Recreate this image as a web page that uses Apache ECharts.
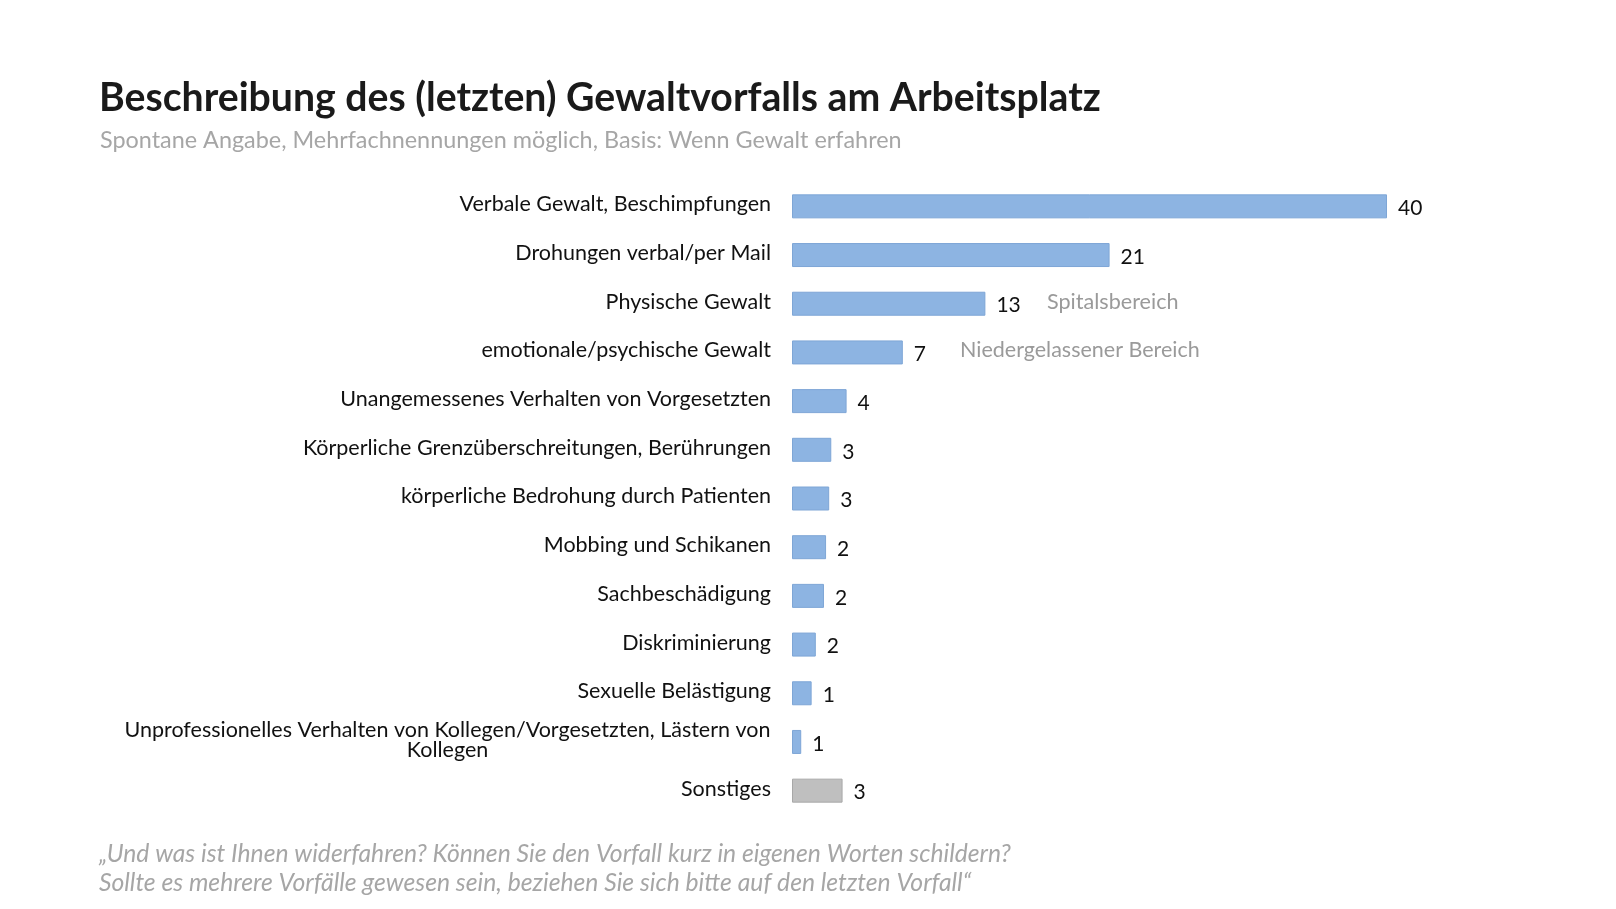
<!DOCTYPE html>
<html>
<head>
<meta charset="utf-8">
<script src="https://cdn.jsdelivr.net/npm/echarts@6/dist/echarts.min.js"></script>
<style>
html,body{margin:0;padding:0;background:#fff;}
#chart{width:1616px;height:909px;}
</style>
</head>
<body>
<div id="chart"></div>
<script>
// ---- data ----
const categories = [
  'Verbale Gewalt, Beschimpfungen',
  'Drohungen verbal/per Mail',
  'Physische Gewalt',
  'emotionale/psychische Gewalt',
  'Unangemessenes Verhalten von Vorgesetzten',
  'Körperliche Grenzüberschreitungen, Berührungen',
  'körperliche Bedrohung durch Patienten',
  'Mobbing und Schikanen',
  'Sachbeschädigung',
  'Diskriminierung',
  'Sexuelle Belästigung',
  'Unprofessionelles Verhalten von Kollegen/Vorgesetzten, Lästern von\nKollegen',
  'Sonstiges'
];
// bar lengths (printed labels are rounded)
const values = [40, 21.35, 13.0, 7.45, 3.67, 2.64, 2.5, 2.29, 2.15, 1.6, 1.32, 0.62, 3.4];
const otherCategory = 'Sonstiges';
const titleText = 'Beschreibung des (letzten) Gewaltvorfalls am Arbeitsplatz';
const subtitleText = 'Spontane Angabe, Mehrfachnennungen möglich, Basis: Wenn Gewalt erfahren';
const noteLines = [
  '„Und was ist Ihnen widerfahren? Können Sie den Vorfall kurz in eigenen Worten schildern?',
  'Sollte es mehrere Vorfälle gewesen sein, beziehen Sie sich bitte auf den letzten Vorfall“'
];
const annotations = ['Spitalsbereich', 'Niedergelassener Bereich'];

// ---- chart ----
const FONT = 'Lato';
const LABEL_SIZE = 21.5;
const chart = echarts.init(document.getElementById('chart'));

function textWidth(str, size) {
  const c = document.createElement('canvas').getContext('2d');
  c.font = size + 'px ' + FONT;
  return Math.ceil(c.measureText(str).width);
}

const seriesData = values.map((v, i) => ({
  value: v,
  itemStyle: categories[i] === otherCategory
    ? { color: '#BFBFBF', borderColor: '#A8A8A8' }
    : { color: '#8DB4E2', borderColor: '#7EA6D6' }
}));

const multiWidth = Math.max.apply(null, categories
  .filter(c => c.indexOf('\n') >= 0)
  .map(c => Math.max.apply(null, c.split('\n').map(s => textWidth(s, LABEL_SIZE)))));

chart.setOption({
  backgroundColor: '#ffffff',
  animation: false,
  grid: { left: 792, right: 229, top: 182, bottom: 94, containLabel: false },
  xAxis: { type: 'value', min: 0, max: 40, show: false },
  yAxis: {
    type: 'category',
    data: categories,
    inverse: true,
    axisLine: { show: false },
    axisTick: { show: false },
    axisLabel: {
      margin: 21,
      fontFamily: FONT,
      fontSize: LABEL_SIZE,
      color: '#111',
      lineHeight: 20,
      padding: [0, 0, 4, 0],
      formatter: function (v) {
        if (v.indexOf('\n') >= 0) {
          return v.split('\n').map(s => '{c|' + s + '}').join('\n');
        }
        return v;
      },
      rich: {
        c: { width: multiWidth, align: 'center', fontFamily: FONT, fontSize: LABEL_SIZE, color: '#111', lineHeight: 20 }
      }
    }
  },
  series: [{
    type: 'bar',
    data: seriesData,
    barWidth: 24,
    itemStyle: { borderWidth: 1 },
    label: {
      show: true,
      position: 'right',
      distance: 11,
      offset: [0, 2],
      fontFamily: FONT,
      fontSize: 21,
      color: '#111',
      formatter: p => String(Math.round(p.value))
    }
  }],
  graphic: [
    { type: 'text', x: 99, y: 98, style: { text: titleText, fontFamily: FONT, fontWeight: 'bold', fontSize: 39.2, fill: '#1a1a1a', verticalAlign: 'middle' } },
    { type: 'text', x: 100, y: 140, style: { text: subtitleText, fontFamily: FONT, fontSize: 23.4, fill: '#A6A6A6', verticalAlign: 'middle' } },
    { type: 'text', x: 1047, y: 302, style: { text: annotations[0], fontFamily: FONT, fontSize: 21.6, fill: '#9A9A9A', verticalAlign: 'middle' } },
    { type: 'text', x: 960, y: 350, style: { text: annotations[1], fontFamily: FONT, fontSize: 21.5, fill: '#9A9A9A', verticalAlign: 'middle' } },
    { type: 'text', x: 99, y: 854, style: { text: noteLines[0], fontFamily: FONT, fontStyle: 'italic', fontSize: 24.7, fill: '#A6A6A6', verticalAlign: 'middle' } },
    { type: 'text', x: 99, y: 883, style: { text: noteLines[1], fontFamily: FONT, fontStyle: 'italic', fontSize: 24.7, fill: '#A6A6A6', verticalAlign: 'middle' } }
  ]
});
</script>
</body>
</html>
